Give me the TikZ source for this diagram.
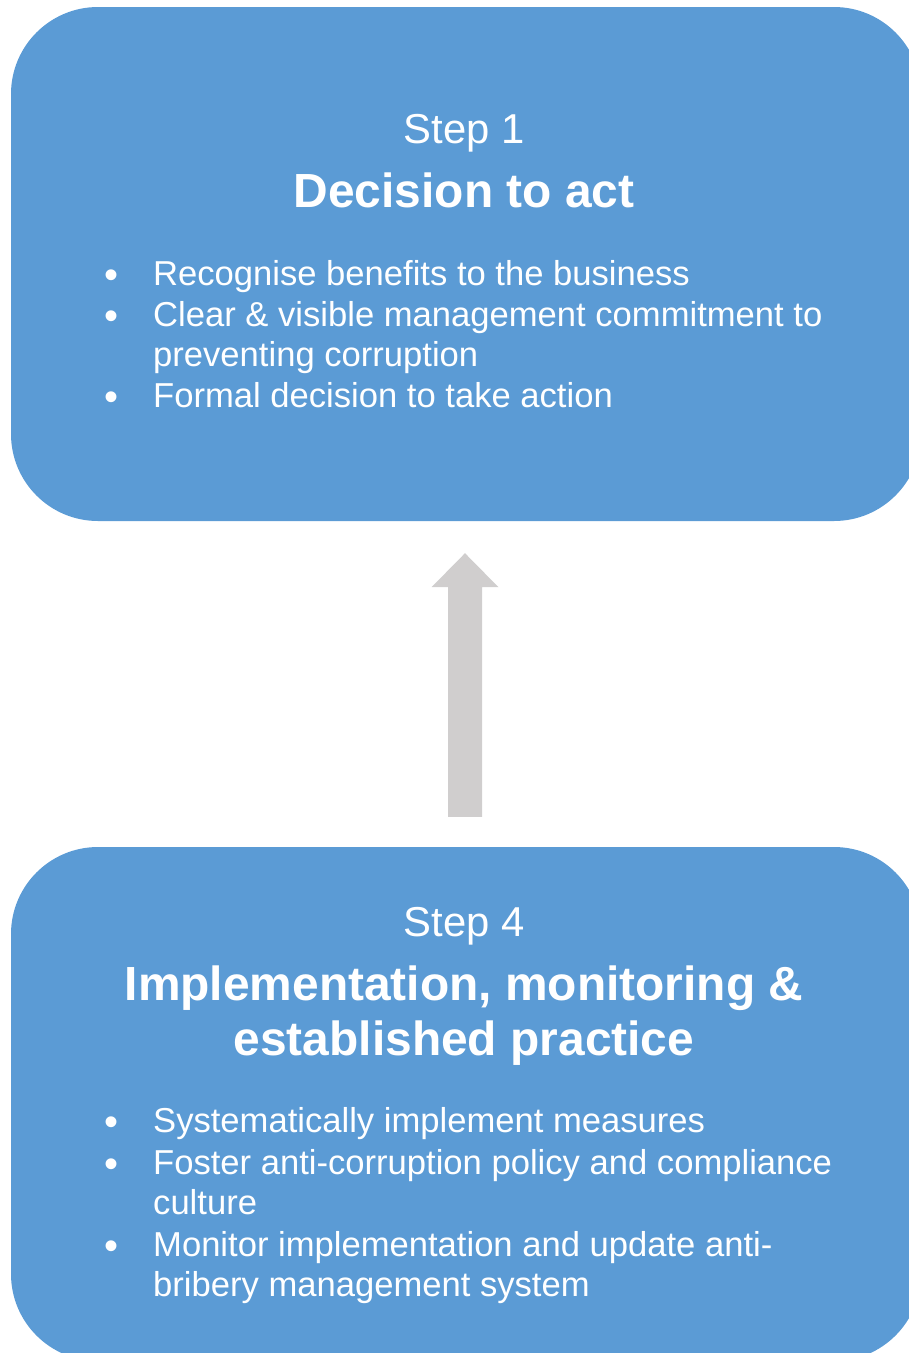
\documentclass[tikz,border=0pt]{standalone}
\usepackage{fontspec}
\setmainfont{Liberation Sans}
\usetikzlibrary{calc}
\definecolor{stepblue}{HTML}{5B9BD5}
\definecolor{arrowgrey}{HTML}{D0CECE}
\begin{document}
\begin{tikzpicture}[x=1pt,y=-1pt,
  stepbox/.style={fill=stepblue, draw=none, rounded corners=87pt,
    minimum width=910pt, minimum height=514pt, inner sep=0pt},
  steplabel/.style={text=white, font=\fontsize{41.8}{48}\selectfont,
    anchor=base, inner sep=0pt},
  steptitle/.style={text=white, font=\fontsize{47.9}{56}\selectfont\bfseries,
    anchor=base, inner sep=0pt},
  itemtext/.style={text=white, font=\fontsize{34.6}{40}\selectfont,
    anchor=base west, inner sep=0pt},
  bulletmark/.style={text=white, font=\fontsize{40}{48}\selectfont,
    anchor=base, inner sep=0pt, yshift=-3pt}]
\useasboundingbox (0,0) rectangle (909,1353);
\clip (0,0) rectangle (909,1353);

% Step boxes
\node[stepbox] (s1) at (466,264) {};
\node[stepbox] (s4) at (466,1104) {};

% Step 1 text
\node[steplabel] (s1num) at (464,143) {Step 1};
\node[steptitle] (s1title) at (464,207) {Decision to act};
\node[bulletmark] (b11) at (112,285) {•};
\node[itemtext] (t11) at (153,285) {Recognise benefits to the business};
\node[bulletmark] (b12) at (112,326) {•};
\node[itemtext] (t12) at (153,326) {Clear \& visible management commitment to};
\node[itemtext] (t12b) at (153,366) {preventing corruption};
\node[bulletmark] (b13) at (112,407) {•};
\node[itemtext] (t13) at (153,407) {Formal decision to take action};

% Step 4 text
\node[steplabel] (s4num) at (464,936) {Step 4};
\node[steptitle] (s4title) at (464,1000) {Implementation, monitoring \&};
\node[steptitle] (s4titleb) at (464,1055) {established practice};
\node[bulletmark] (b41) at (112,1132) {•};
\node[itemtext] (t41) at (153,1132) {Systematically implement measures};
\node[bulletmark] (b42) at (112,1174) {•};
\node[itemtext] (t42) at (153,1174) {Foster anti-corruption policy and compliance};
\node[itemtext] (t42b) at (153,1214) {culture};
\node[bulletmark] (b43) at (112,1256) {•};
\node[itemtext] (t43) at (153,1256) {Monitor implementation and update anti-};
\node[itemtext] (t43b) at (153,1296) {bribery management system};

% Block arrow from step 4 up to step 1
\coordinate (abase) at ($(s4.north)+(-1,-30)$);
\coordinate (atip) at ($(s1.south)+(-1,32)$);
\fill[arrowgrey] ($(abase)+(-17,0)$) -- ($(atip)+(-17,34)$) -- ($(atip)+(-33.5,34)$)
  -- (atip) -- ($(atip)+(33.5,34)$) -- ($(atip)+(17,34)$) -- ($(abase)+(17,0)$) -- cycle;
\end{tikzpicture}
\end{document}
